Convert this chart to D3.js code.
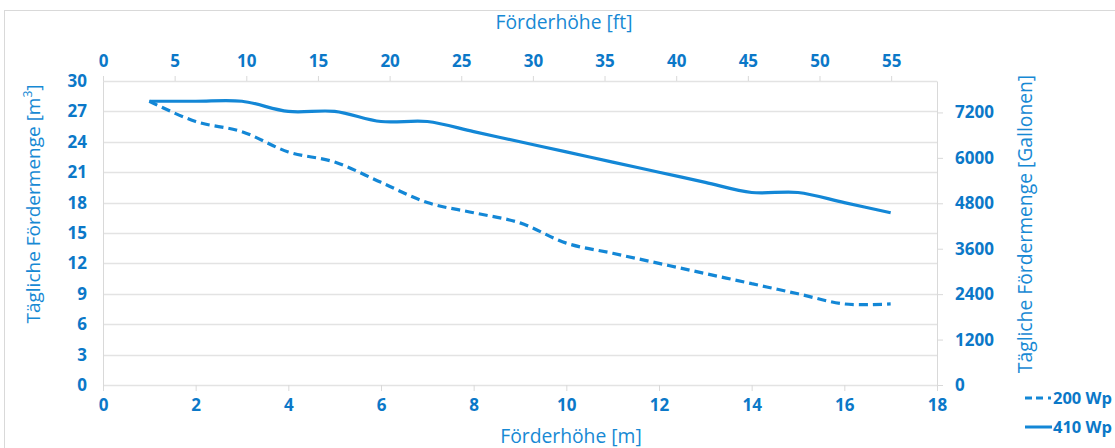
<!DOCTYPE html>
<html>
<head>
<meta charset="utf-8">
<script src="https://cdn.jsdelivr.net/npm/d3@7"></script>
<style>
  body { margin: 0; background: #fff; }
  svg, svg text { font-family: "Open Sans", sans-serif; }
  .tick text { font-family: "Open Sans", sans-serif; font-weight: 700; font-size: 17px; fill: #0b78c8; }
  .domain { stroke: #d9d9d9; }
  .tick line { stroke: #d9d9d9; }
</style>
</head>
<body>
<div id="chart"></div>
<script>
// Data
const heightM = [1, 2, 3, 4, 5, 6, 7, 8, 9, 10, 11, 12, 13, 14, 15, 16, 17];
const flow200 = [28, 26, 25, 23, 22, 20, 18, 17, 16, 14, 13, 12, 11, 10, 9, 8, 8];
const flow410 = [28, 28, 28, 27, 27, 26, 26, 25, 24, 23, 22, 21, 20, 19, 19, 18, 17];
const seriesNames = ["200 Wp", "410 Wp"];
const bottomTicks = [0, 2, 4, 6, 8, 10, 12, 14, 16, 18];
const topTicks = [0, 5, 10, 15, 20, 25, 30, 35, 40, 45, 50, 55];
const leftTicks = [0, 3, 6, 9, 12, 15, 18, 21, 24, 27, 30];
const rightTicks = [0, 1200, 2400, 3600, 4800, 6000, 7200];

const width = 1115;
const height = 448;
const margin = { top: 81, right: 178, bottom: 63, left: 103 };
const blue = "#0b78c8";
const lineBlue = "#1387d6";

const svg = d3.select("#chart")
    .append("svg")
    .attr("width", width)
    .attr("height", height);

//Frame
svg.append("rect")
    .attr("x", 4.5).attr("y", 10.5)
    .attr("width", 1200).attr("height", 600)
    .attr("fill", "none")
    .attr("stroke", "#d9d9d9");

//Scales
const x = d3.scaleLinear().domain([0, 18]).range([margin.left, width - margin.right]);
const xTop = d3.scaleLinear().domain([0, 58.2]).range([margin.left, width - margin.right]);
const y = d3.scaleLinear().domain([0, 30]).range([height - margin.bottom, margin.top]);
const yRight = d3.scaleLinear().domain([0, 8030]).range([height - margin.bottom, margin.top]);

//Gridlines
svg.append("g")
    .selectAll("line")
    .data(leftTicks)
    .join("line")
    .attr("x1", margin.left).attr("x2", width - margin.right)
    .attr("y1", d => Math.round(y(d)) + 0.5).attr("y2", d => Math.round(y(d)) + 0.5)
    .attr("stroke", "#e3e3e3")
    .attr("stroke-width", 1.5);

//Axes
const fmt = d3.format("d");
svg.append("g")
    .attr("transform", `translate(0, ${height - margin.bottom})`)
    .call(d3.axisBottom(x).tickValues(bottomTicks).tickFormat(fmt).tickSize(6).tickPadding(8).tickSizeOuter(0))
    .call(g => g.select(".domain").remove());

svg.append("g")
    .attr("transform", `translate(0, ${margin.top})`)
    .call(d3.axisTop(xTop).tickValues(topTicks).tickFormat(fmt).tickSize(5).tickPadding(9).tickSizeOuter(0))
    .call(g => g.select(".domain").remove());

svg.append("g")
    .attr("transform", `translate(${margin.left}, 0)`)
    .call(d3.axisLeft(y).tickValues(leftTicks).tickFormat(fmt).tickSize(0).tickPadding(16).tickSizeOuter(0));

svg.append("g")
    .attr("transform", `translate(${width - margin.right}, 0)`)
    .call(d3.axisRight(yRight).tickValues(rightTicks).tickFormat(fmt).tickSize(6).tickPadding(12).tickSizeOuter(0));

//Axis titles
const title = (txt, tx, ty, rot) => svg.append("text")
    .attr("transform", `translate(${tx}, ${ty}) rotate(${rot})`)
    .attr("text-anchor", "middle")
    .attr("fill", "#1789d4")
    .style("font-size", "19.3px")
    .text(txt);
title("Förderhöhe [ft]", 564, 29, 0);
title("Förderhöhe [m]", 571, 443, 0);
title("Tägliche Fördermenge [Gallonen]", 1032, 224, -90);

const leftTitle = svg.append("text")
    .attr("transform", "translate(40, 204) rotate(-90)")
    .attr("text-anchor", "middle")
    .attr("fill", "#1789d4")
    .style("font-size", "19px");
leftTitle.append("tspan").text("Tägliche Fördermenge [m");
leftTitle.append("tspan").attr("baseline-shift", "super").style("font-size", "12px").text("3");
leftTitle.append("tspan").text("]");

//Lines
const line = d3.line()
    .x((d, i) => x(heightM[i]))
    .y(d => y(d))
    .curve(d3.curveCatmullRom.alpha(0.5));

svg.append("path")
    .datum(flow410)
    .attr("fill", "none")
    .attr("stroke", lineBlue)
    .attr("stroke-width", 3.2)
    .attr("d", line);

svg.append("path")
    .datum(flow200)
    .attr("fill", "none")
    .attr("stroke", lineBlue)
    .attr("stroke-width", 3.2)
    .attr("stroke-dasharray", "9,5")
    .attr("d", line);

//Legend
const legend = svg.append("g").attr("transform", "translate(1025, 398)");
seriesNames.forEach((name, i) => {
    const row = legend.append("g").attr("transform", `translate(0, ${i * 29})`);
    row.append("line")
        .attr("x1", 0).attr("x2", 27)
        .attr("stroke", lineBlue)
        .attr("stroke-width", 3)
        .attr("stroke-dasharray", i === 0 ? "7,4,7,5,3" : null);
    row.append("text")
        .attr("x", 28).attr("dy", "0.36em")
        .attr("fill", blue)
        .style("font-size", "16.5px")
        .style("font-weight", 700)
        .text(name);
});
</script>
</body>
</html>
